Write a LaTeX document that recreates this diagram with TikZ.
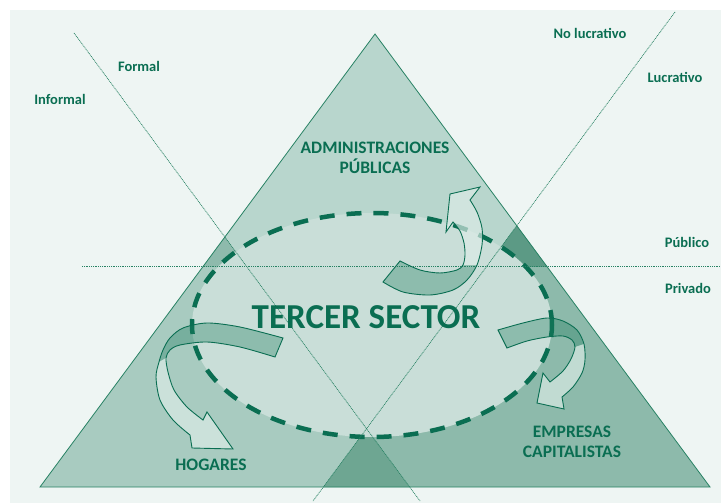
\documentclass[tikz,border=0pt]{standalone}
\usepackage{fontspec}
\setmainfont{Carlito}
\usetikzlibrary{calc}

\definecolor{bgc}{RGB}{238,245,243}
\definecolor{pubc}{RGB}{184,214,205}
\definecolor{hogc}{RGB}{168,203,192}
\definecolor{empc}{RGB}{141,186,171}
\definecolor{pubhogc}{RGB}{142,186,172}
\definecolor{pubempc}{RGB}{92,154,133}
\definecolor{hogempc}{RGB}{110,166,146}
\definecolor{ellc}{RGB}{201,222,216}
\definecolor{ink}{RGB}{10,110,82}
\definecolor{rulec}{RGB}{40,130,100}
\definecolor{bandc}{RGB}{30,125,95}
\definecolor{frontc}{RGB}{222,237,232}

\begin{document}
\begin{tikzpicture}[x=1pt,y=-1pt,
  divline/.style={draw=rulec, line width=0.7pt, dash pattern=on 1pt off 0.8pt},
  edge/.style={draw=rulec, line width=0.8pt},
  band/.style={fill=bandc, fill opacity=0.35},
  front/.style={fill=frontc, fill opacity=0.65},
  arrline/.style={draw=ink, line width=0.9pt},
  small/.style={text=ink, inner sep=0pt, font=\bfseries\fontsize{14.5}{17}\selectfont},
  mid/.style={text=ink, inner sep=0pt, align=center, font=\bfseries\fontsize{17.5}{20}\selectfont},
  big/.style={text=ink, inner sep=0pt, font=\bfseries\fontsize{35}{40}\selectfont}]

\useasboundingbox (0,0) rectangle (721,503);
\fill[white] (0,0) rectangle (721,503);
\fill[bgc] (10,10) rectangle (721,503);

% triangle corners and dividing lines
\coordinate (apex) at (375,34);
\coordinate (bl) at (40,487);
\coordinate (br) at (710,487);
\coordinate (f1) at (74,33);
\coordinate (f2) at (420,501);
\coordinate (l1) at (675,12);
\coordinate (l2) at (313,501);
\coordinate (h1) at (82,266);
\coordinate (h2) at (721,266);
\coordinate (fA) at ($(f1)!-0.4!(f2)$);
\coordinate (fB) at ($(f1)!1.3!(f2)$);
\coordinate (lA) at ($(l1)!-0.4!(l2)$);
\coordinate (lB) at ($(l1)!1.3!(l2)$);
\coordinate (ec) at (372,325);

% sector fills inside the triangle
\begin{scope}
  \clip (apex) -- (bl) -- (br) -- cycle;
  \fill[pubc] (0,0) rectangle (721,266);
  \fill[hogc] (fA) -- (fB) -- (-300,700) -- (-300,-200) -- cycle;
  \fill[empc] (lA) -- (lB) -- (1000,700) -- (1000,-200) -- cycle;
  \begin{scope}
    \clip (0,0) rectangle (721,266);
    \fill[pubhogc] (fA) -- (fB) -- (-300,700) -- (-300,-200) -- cycle;
    \fill[pubempc] (lA) -- (lB) -- (1000,700) -- (1000,-200) -- cycle;
  \end{scope}
  \begin{scope}
    \clip (fA) -- (fB) -- (-300,700) -- (-300,-200) -- cycle;
    \fill[hogempc] (lA) -- (lB) -- (1000,700) -- (1000,-200) -- cycle;
  \end{scope}
\end{scope}
\draw[edge] (apex) -- (bl) -- (br) -- cycle;

% third sector ellipse
\fill[ellc] (ec) ellipse [x radius=180pt, y radius=112pt];
\draw[ink, line width=4.5pt, dash pattern=on 15pt off 12pt] (ec) ellipse [x radius=180pt, y radius=112pt];

% dividing lines
\draw[divline] (f1) -- (f2);
\draw[divline] (l1) -- (l2);
\draw[divline] (h1) -- (h2);

% arrow towards public administrations
\fill[band] plot[smooth] coordinates {(383,282) (403,292) (430,295) (453,290) (467,280) (477,265)}
  -- plot[smooth] coordinates {(463,265) (457,270) (440,273) (420,270) (400,261)} -- cycle;
\fill[front] plot[smooth] coordinates {(477,265) (482,245) (482,228) (477,212) (470,200)}
  -- (480,187) -- (450,194) -- (446,232) -- (453,222)
  -- plot[smooth] coordinates {(453,222) (460,231) (464,243) (465,255) (463,265)} -- cycle;
\draw[arrline] plot[smooth] coordinates {(383,282) (403,292) (430,295) (453,290) (467,280) (477,265) (482,245) (482,228) (477,212) (470,200)}
  -- (480,187) -- (450,194) -- (446,232) -- (453,222)
  -- plot[smooth] coordinates {(453,222) (460,231) (464,243) (465,255) (463,265) (457,270) (440,273) (420,270) (400,261)} -- cycle;

% arrow towards capitalist firms
\fill[band] plot[smooth] coordinates {(498,330) (523,323) (547,318) (563,321) (577,330) (584,344)}
  -- plot[smooth] coordinates {(575,347) (572,340) (563,336) (547,337) (527,341) (507,348)} -- cycle;
\fill[front] plot[smooth] coordinates {(584,344) (585,360) (582,373) (573,387) (562,397)}
  -- (564,409) -- (537,403) -- (543,373) -- (550,382)
  -- plot[smooth] coordinates {(550,382) (563,371) (571,359) (575,347)} -- cycle;
\draw[arrline] plot[smooth] coordinates {(498,330) (523,323) (547,318) (563,321) (577,330) (584,344) (585,360) (582,373) (573,387) (562,397)}
  -- (564,409) -- (537,403) -- (543,373) -- (550,382)
  -- plot[smooth] coordinates {(550,382) (563,371) (571,359) (575,347) (572,340) (563,336) (547,337) (527,341) (507,348)} -- cycle;

% arrow towards households
\fill[band] plot[smooth] coordinates {(283,338) (240,327) (207,323) (183,328) (170,338) (163,350) (159,362)}
  -- plot[smooth] coordinates {(166,358) (170,350) (180,345) (207,342) (240,347) (275,357)} -- cycle;
\fill[front] plot[smooth] coordinates {(159,362) (156,377) (160,400) (173,420) (190,435)}
  -- (192,448) -- (233,449) -- (207,412) -- (203,420)
  -- plot[smooth] coordinates {(203,420) (187,407) (174,390) (168,372) (166,358)} -- cycle;
\draw[arrline] plot[smooth] coordinates {(283,338) (240,327) (207,323) (183,328) (170,338) (163,350) (159,362) (156,377) (160,400) (173,420) (190,435)}
  -- (192,448) -- (233,449) -- (207,412) -- (203,420)
  -- plot[smooth] coordinates {(203,420) (187,407) (174,390) (168,372) (166,358) (170,350) (180,345) (207,342) (240,347) (275,357)} -- cycle;

% labels
\node[small] (formal) at (139,66) {Formal};
\node[small] (informal) at (60,99) {Informal};
\node[small] (nolucr) at (590,33) {No lucrativo};
\node[small] (lucr) at (675,77) {Lucrativo};
\node[small] (publico) at (687,242) {Público};
\node[small] (privado) at (688,288) {Privado};
\node[mid] (adm) at (375,158) {ADMINISTRACIONES\\PÚBLICAS};
\node[big] (tercer) at (366,317) {TERCER SECTOR};
\node[mid] (hog) at (211,465) {HOGARES};
\node[mid] (emp) at (572,442) {EMPRESAS\\CAPITALISTAS};
\end{tikzpicture}
\end{document}
